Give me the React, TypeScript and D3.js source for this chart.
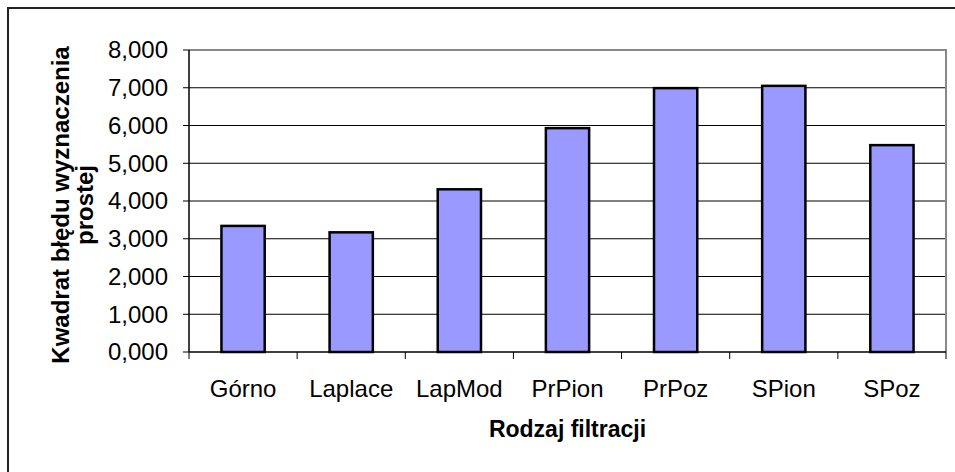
import React from 'react'
import * as d3 from 'd3'

// data
const categories = ['Górno', 'Laplace', 'LapMod', 'PrPion', 'PrPoz', 'SPion', 'SPoz']
const values = [3.34, 3.17, 4.31, 5.93, 6.99, 7.05, 5.48]
const yTicks = [0, 1, 2, 3, 4, 5, 6, 7, 8]
const yTickLabels = ['0,000', '1,000', '2,000', '3,000', '4,000', '5,000', '6,000', '7,000', '8,000']
const yTitle = ['Kwadrat błędu wyznaczenia', 'prostej']
const xTitle = 'Rodzaj filtracji'

const W = 955
const H = 472
const font = '"Liberation Sans", Arial, sans-serif'

export default function App() {
  // plot area
  const margin = { top: 50, right: 9, bottom: 120, left: 189 }
  const width = W - margin.left - margin.right
  const height = H - margin.top - margin.bottom

  const x = d3.scaleBand().domain(categories).range([0, width]).padding(0)
  const y = d3.scaleLinear().domain([0, 8]).range([height, 0])
  const barW = x.bandwidth() / 2.5

  const edges = d3.range(categories.length + 1).map((i) => i * x.step())

  return (
    <svg width={W} height={H} style={{ position: 'fixed', left: 0, top: 0, display: 'block', background: '#fff' }}>
      {/* outer chart border, runs past the right and bottom */}
      <rect x={8} y={8} width={W + 20} height={H + 20} fill="none" stroke="#222" strokeWidth={2} />

      <g transform={`translate(${margin.left},${margin.top})`}>
        {/* gridlines */}
        {yTicks.slice(1, -1).map((t) => (
          <line key={t} x1={0} x2={width} y1={y(t)} y2={y(t)} stroke="#000" strokeWidth={1} />
        ))}
        {/* plot area top/right border */}
        <path d={`M0,${y(8)}H${width}V${height}`} fill="none" stroke="#888" strokeWidth={2} />

        {/* bars */}
        {values.map((v, i) => (
          <rect
            key={categories[i]}
            x={(x(categories[i]) as number) + x.bandwidth() / 2 - barW / 2}
            y={y(v)}
            width={barW}
            height={height - y(v)}
            fill="#9999FF"
            stroke="#000"
            strokeWidth={2.5}
          />
        ))}

        {/* y axis */}
        <line x1={0} x2={0} y1={0} y2={height} stroke="#000" strokeWidth={1.5} />
        {yTicks.map((t, i) => (
          <g key={t}>
            <line x1={-6} x2={0} y1={y(t)} y2={y(t)} stroke="#000" strokeWidth={1} />
            <text x={-21} y={y(t)} dy="0.35em" textAnchor="end" fontFamily={font} fontSize={24} fill="#000">
              {yTickLabels[i]}
            </text>
          </g>
        ))}

        {/* x axis */}
        <line x1={0} x2={width} y1={height} y2={height} stroke="#000" strokeWidth={1.5} />
        {edges.map((e, i) => (
          <line key={i} x1={e} x2={e} y1={height} y2={height + 7} stroke="#000" strokeWidth={1} />
        ))}
        {categories.map((c) => (
          <text
            key={c}
            x={(x(c) as number) + x.bandwidth() / 2}
            y={height + 45}
            textAnchor="middle"
            fontFamily={font}
            fontSize={24}
            fill="#000"
          >
            {c}
          </text>
        ))}

        {/* axis titles */}
        <text x={width / 2} y={height + 85} textAnchor="middle" fontFamily={font} fontSize={23} fontWeight="bold" fill="#000">
          {xTitle}
        </text>
        <text
          transform={`translate(${69 - margin.left},${155}) rotate(-90)`}
          textAnchor="middle"
          fontFamily={font}
          fontSize={24}
          fontWeight="bold"
          fill="#000"
        >
          <tspan x={0} dy={0}>{yTitle[0]}</tspan>
          <tspan x={0} dy={24}>{yTitle[1]}</tspan>
        </text>
      </g>
    </svg>
  )
}
